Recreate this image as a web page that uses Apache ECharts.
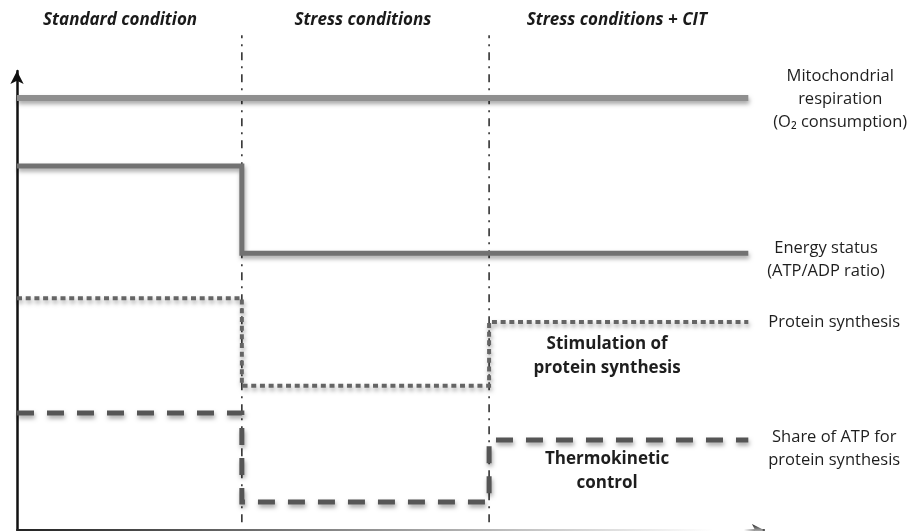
<!DOCTYPE html>
<html><head><meta charset="utf-8">
<script src="https://cdn.jsdelivr.net/npm/echarts/dist/echarts.min.js"></script>
<style>html,body{margin:0;padding:0;background:#fff}#c{width:909px;height:531px}</style>
</head><body><div id="c"></div>
<script>
// ---- data (arbitrary time / level units) ----
const phases = ['Standard condition', 'Stress conditions', 'Stress conditions + CIT'];
const phaseBounds = [0, 30.1, 63.2, 97.9];
const phaseLabelX = [13.8, 46.3, 80.3];
const respiration = [94.1, 94.1, 94.1];
const energyStatus = [79.3, 60.3, 60.3];
const proteinSynthesis = [50.5, 31.4, 45.3];
const atpShare = [25.5, 6.1, 19.6];
const seriesNames = ['Mitochondrial\nrespiration\n(O\u2082 consumption)', 'Energy status\n(ATP/ADP ratio)', 'Protein synthesis', 'Share of ATP for\nprotein synthesis'];
const seriesLabelPos = [[110.2, 93.9], [108.3, 58.8], [109.4, 45.3], [109.4, 17.6]];
const notes = ['Stimulation of\nprotein synthesis', 'Thermokinetic\ncontrol'];
const notePos = [[79.0, 37.8], [79.0, 12.9]];
const dividerRange = [1.7, 107.8];

function steps(levels) {
  const pts = [];
  levels.forEach((v, i) => { pts.push([phaseBounds[i], v]); pts.push([phaseBounds[i + 1], v]); });
  return pts;
}
const shadow = { shadowBlur: 4, shadowColor: 'rgba(0,0,0,0.35)', shadowOffsetX: 1, shadowOffsetY: 3 };
function lineSeries(levels, color, width, type) {
  return {
    type: 'line', data: steps(levels), symbol: 'none', silent: true, clip: false,
    lineStyle: Object.assign({ color: color, width: width, type: type, cap: 'butt', join: 'miter' }, shadow)
  };
}
const dividers = [phaseBounds[1], phaseBounds[2]].map(x => ({
  type: 'line', data: [[x, dividerRange[0]], [x, dividerRange[1]]], symbol: 'none', silent: true, clip: false,
  lineStyle: { color: '#333', width: 1.6, type: [8, 6, 2, 6] }
}));

const chart = echarts.init(document.getElementById('c'), null, { renderer: 'canvas' });
chart.setOption({
  animation: false,
  grid: { left: 17, right: 145, top: 71, bottom: 1 },
  xAxis: {
    type: 'value', min: 0, max: 100,
    axisLine: { show: true, symbol: ['none', 'arrow'], symbolSize: [9, 12],
      lineStyle: { width: 2, color: new echarts.graphic.LinearGradient(0, 0, 1, 0, [
        { offset: 0, color: '#222' }, { offset: 0.93, color: '#ffffff' }, { offset: 0.97, color: '#ffffff' }, { offset: 1, color: '#222' }]) } },
    axisTick: { show: false }, axisLabel: { show: false }, splitLine: { show: false }
  },
  yAxis: {
    type: 'value', min: 0, max: 100,
    axisLine: { show: true, onZero: false, symbol: ['none', 'arrow'], symbolSize: [10, 13], lineStyle: { width: 2.5, color: '#111' } },
    axisTick: { show: false }, axisLabel: { show: false }, splitLine: { show: false }
  },
  series: [
    ...dividers,
    lineSeries(respiration, '#8f8f8f', 6, 'solid'),
    lineSeries(energyStatus, '#727272', 5, 'solid'),
    lineSeries(proteinSynthesis, '#656565', 4, [5, 3.7]),
    lineSeries(atpShare, '#555555', 5, [17, 13])
  ]
});

const graphics = [];
const ff = '"Open Sans", "DejaVu Sans", sans-serif';
phases.forEach((p, i) => {
  const pt = chart.convertToPixel({ gridIndex: 0 }, [phaseLabelX[i], 0]);
  graphics.push({ type: 'text', x: pt[0], y: 20, style: { text: p, font: 'italic bold 17px ' + ff, fill: '#1a1a1a', align: 'center', verticalAlign: 'middle' } });
});
seriesNames.forEach((t, i) => {
  const pt = chart.convertToPixel({ gridIndex: 0 }, seriesLabelPos[i]);
  graphics.push({ type: 'text', x: pt[0], y: pt[1], style: { text: t, font: '16.5px ' + ff, fill: '#1e1e1e', align: 'center', verticalAlign: 'middle', lineHeight: 23 } });
});
notes.forEach((t, i) => {
  const pt = chart.convertToPixel({ gridIndex: 0 }, notePos[i]);
  graphics.push({ type: 'text', x: pt[0], y: pt[1], style: { text: t, font: 'bold 17px ' + ff, fill: '#1e1e1e', align: 'center', verticalAlign: 'middle', lineHeight: 24 } });
});
chart.setOption({ graphic: graphics });
</script></body></html>
